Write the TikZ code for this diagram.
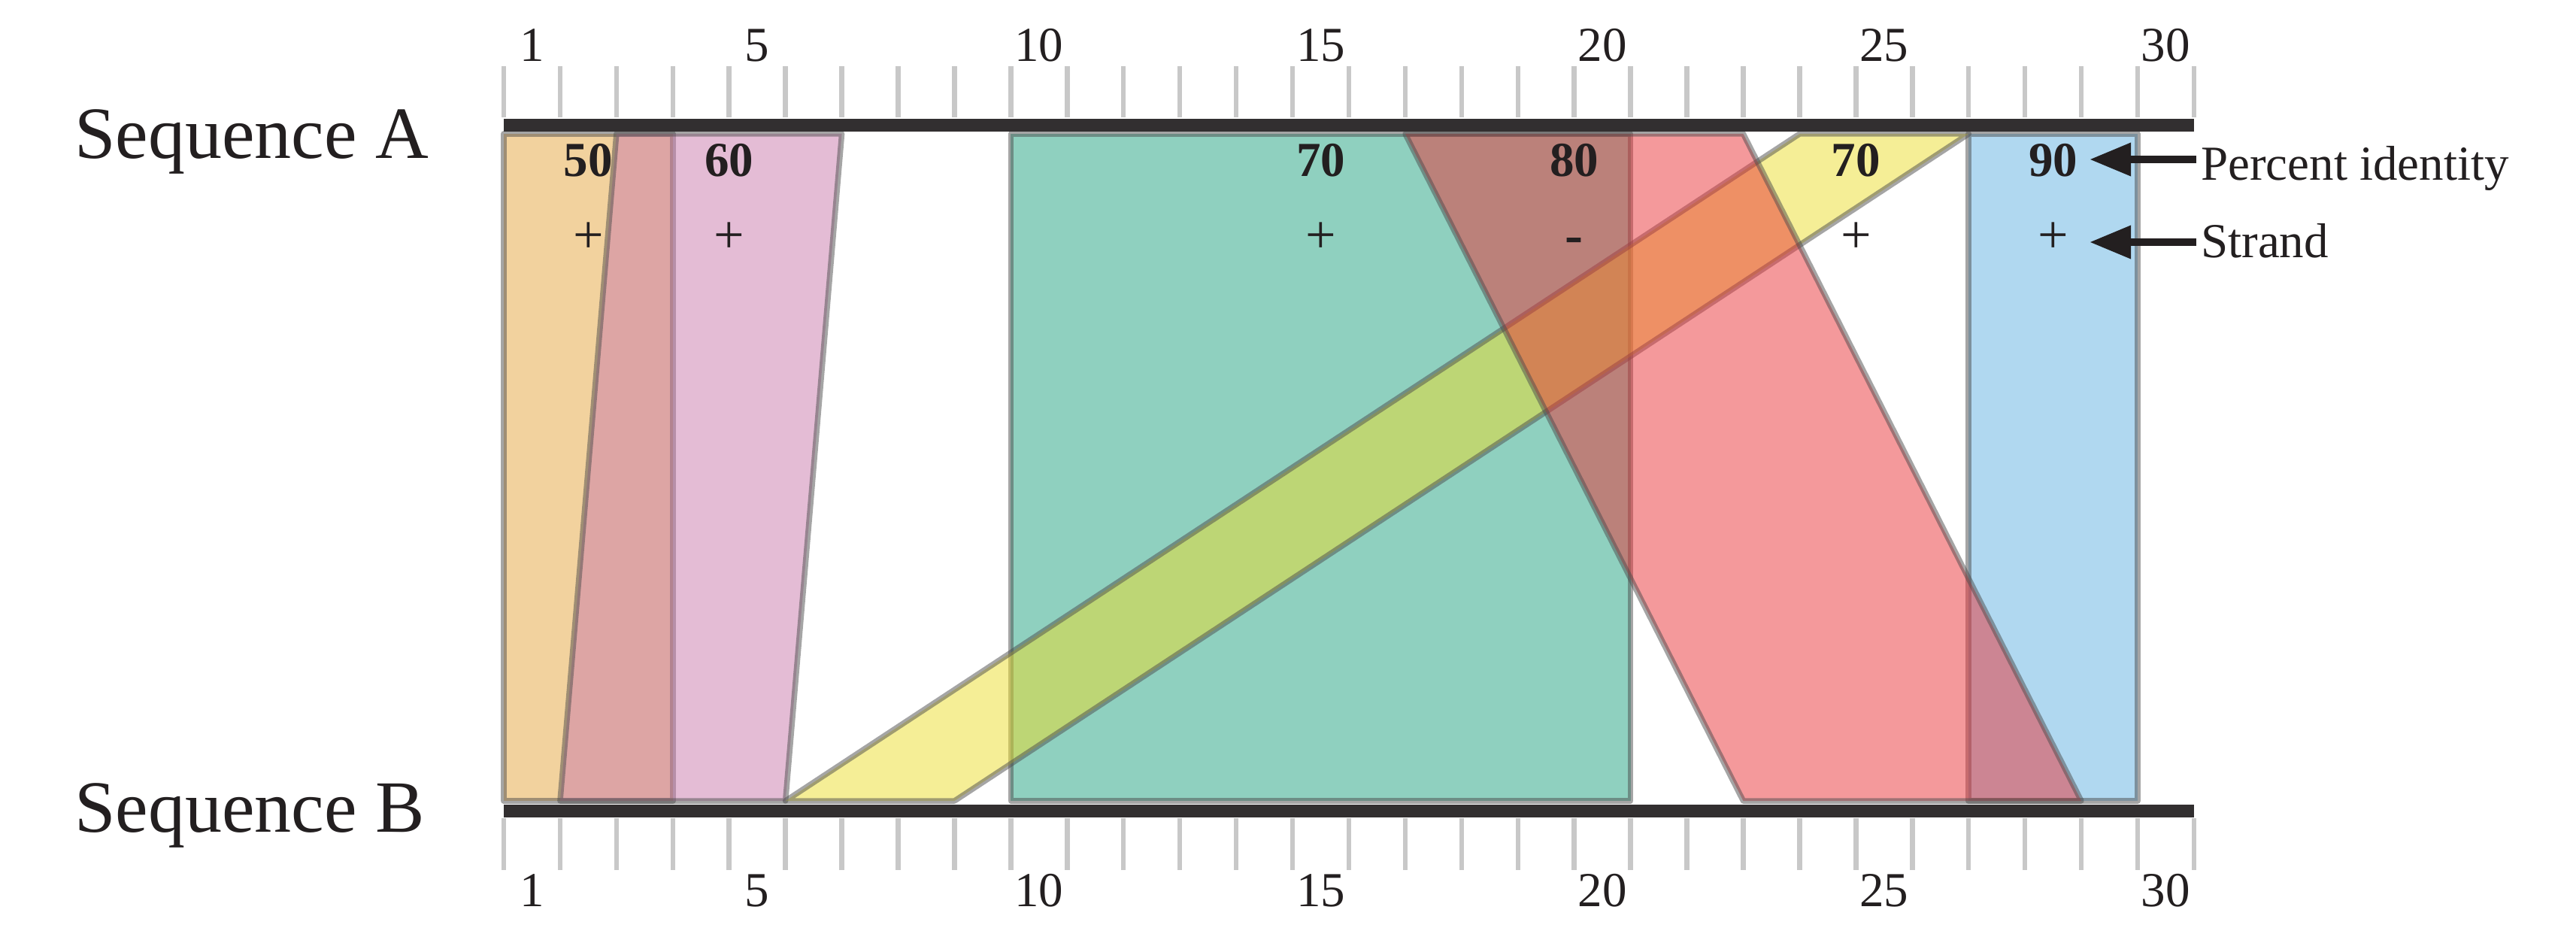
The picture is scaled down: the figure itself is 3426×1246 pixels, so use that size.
\documentclass[tikz,border=0pt]{standalone}
\usepackage{fontspec}
\setmainfont{Liberation Serif}
\usetikzlibrary{arrows.meta}

\definecolor{barc}{RGB}{50,47,48}
\definecolor{tickc}{RGB}{200,200,200}
\definecolor{inkc}{RGB}{35,31,32}
\definecolor{orangec}{RGB}{229,165,61}
\definecolor{pinkc}{RGB}{201,121,171}
\definecolor{tealc}{RGB}{31,161,127}
\definecolor{bluec}{RGB}{97,177,225}
\definecolor{yellowc}{RGB}{235,221,45}
\definecolor{redc}{RGB}{233,51,55}

\begin{document}
\begin{tikzpicture}[x=1pt, y=-1pt, line join=round,
  band/.style={fill=#1, draw=black!70, line width=7.5pt, opacity=0.5},
  seqbar/.style={draw=barc, line width=17pt},
  tickline/.style={draw=tickc, line width=6.5pt},
  scalenum/.style={anchor=base, inner sep=0pt, text=inkc, font=\fontsize{65}{78}\selectfont},
  idnum/.style={anchor=base, inner sep=0pt, text=inkc, font=\bfseries\fontsize{65}{78}\selectfont},
  strandsign/.style={anchor=base, inner sep=0pt, text=inkc, font=\fontsize{72}{86}\selectfont},
  seqname/.style={anchor=base west, inner sep=0pt, text=inkc, font=\fontsize{98}{118}\selectfont},
  keytext/.style={anchor=base west, inner sep=6pt, text=inkc, font=\fontsize{65}{78}\selectfont},
  keyarrow/.style={draw=inkc, line width=10pt, -{Triangle[length=55pt, width=42pt]}}]

  %% ════ 序列名 ════
  \node[seqname] (seqA) at (99,211) {Sequence A};
  \node[seqname] (seqB) at (99,1106) {Sequence B};

  %% ════ 比对区块（x 以碱基格为单位，0 = 第一格左边界）════
  \begin{scope}[shift={(670,0)}, x=74.93pt]
    \draw[band=orangec] (0,178) -- (3,178) -- (3,1065) -- (0,1065) -- cycle;
    \draw[band=pinkc]   (2,178) -- (6,178) -- (5,1065) -- (1,1065) -- cycle;
    \draw[band=tealc]   (9,178) -- (20,178) -- (20,1065) -- (9,1065) -- cycle;
    \draw[band=bluec]   (26,178) -- (29,178) -- (29,1065) -- (26,1065) -- cycle;
    \draw[band=yellowc] (23,178) -- (26,178) -- (8,1065) -- (5,1065) -- cycle;
    \draw[band=redc]    (16,178) -- (22,178) -- (28,1065) -- (22,1065) -- cycle;

    %% ════ 刻度 ════
    \foreach \k in {0,...,30} {
      \draw[tickline] (\k,88) -- (\k,156);
      \draw[tickline] (\k,1088) -- (\k,1157);
    }
    \foreach \n in {1,5,10,15,20,25,30} {
      \node[scalenum] (topnum\n) at (\n-0.5,82) {\n};
      \node[scalenum] (botnum\n) at (\n-0.5,1205) {\n};
    }

    %% ════ 序列横杠 ════
    \draw[seqbar] (0,166.5) -- (30,166.5);
    \draw[seqbar] (0,1078) -- (30,1078);

    %% ════ 相似度与链方向 ════
    \node[idnum] (n50) at (1.5,235) {50};
    \node[idnum] (n60) at (4,235) {60};
    \node[idnum] (n70a) at (14.5,235) {70};
    \node[idnum] (n80) at (19,235) {80};
    \node[idnum] (n70b) at (24,235) {70};
    \node[idnum] (n90) at (27.5,235) {90};

    \node[strandsign] (s50) at (1.5,337) {+};
    \node[strandsign] (s60) at (4,337) {+};
    \node[strandsign] (s70a) at (14.5,337) {+};
    \node[strandsign] (s80) at (19,337) {\textbf{-}};
    \node[strandsign] (s70b) at (24,337) {+};
    \node[strandsign] (s90) at (27.5,337) {+};
  \end{scope}

  %% ════ 图例箭头 ════
  \node[keytext] (pid) at (2921,240) {Percent identity};
  \node[keytext] (strand) at (2921,343) {Strand};
  \coordinate (idtip) at (2779,212);
  \coordinate (sttip) at (2779,322);
  \draw[keyarrow] (pid.west |- idtip) -- (idtip);
  \draw[keyarrow] (strand.west |- sttip) -- (sttip);

  % 钉死画布
  \pgfresetboundingbox
  \path[use as bounding box] (0,0) rectangle (3426,1246);
\end{tikzpicture}
\end{document}
